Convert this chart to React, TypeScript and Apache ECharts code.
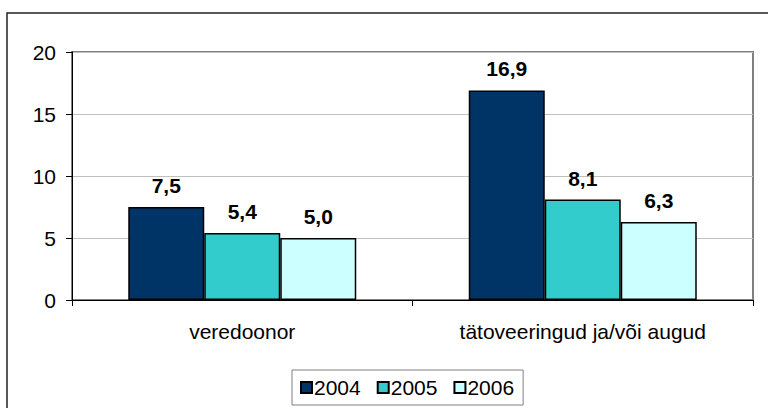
import React, { useEffect, useRef } from "react";
import * as echarts from "echarts";

const categories = ["veredoonor", "tätoveeringud ja/või augud"];
const seriesNames = ["2004", "2005", "2006"];
const values2004 = [7.5, 16.9];
const values2005 = [5.4, 8.1];
const values2006 = [5.0, 6.3];
const colors = ["#003366", "#33CCCC", "#CCFFFF"];
const yTicks = { min: 0, max: 20, interval: 5 };

export default function App() {
  const ref = useRef<HTMLDivElement>(null);
  useEffect(() => {
    if (!ref.current) return;
    const chart = echarts.init(ref.current, undefined, { renderer: "svg" });
    const font = "'Liberation Sans', Arial, sans-serif";
    const data = [values2004, values2005, values2006];
    chart.setOption({
      animation: false,
      backgroundColor: "#ffffff",
      textStyle: { fontFamily: font },
      graphic: [
        {
          type: "rect",
          shape: { x: 7, y: 13, width: 800, height: 500 },
          style: { fill: "none", stroke: "#222", lineWidth: 1.5 },
          silent: true,
        },
      ],
      grid: {
        left: 72,
        right: 15,
        top: 52,
        bottom: 108,
        show: true,
        borderColor: "#808080",
        borderWidth: 2,
        backgroundColor: "#ffffff",
      },
      legend: {
        data: seriesNames,
        left: 292,
        top: 370,
        itemWidth: 11,
        itemHeight: 11,
        itemGap: 16,
        padding: [7, 9, 7, 8],
        borderColor: "#808080",
        borderWidth: 1,
        icon: "rect",
        textStyle: { fontSize: 21, color: "#000", fontFamily: font, padding: [0, 0, 0, -3] },
      },
      xAxis: {
        type: "category",
        data: categories,
        axisLine: { lineStyle: { color: "#000", width: 1 } },
        axisTick: { show: true, length: 6, lineStyle: { color: "#000" } },
        axisLabel: { fontSize: 21, color: "#000", margin: 21, fontFamily: font },
      },
      yAxis: {
        type: "value",
        min: yTicks.min,
        max: yTicks.max,
        interval: yTicks.interval,
        axisLine: { show: true, lineStyle: { color: "#000", width: 1 } },
        axisTick: { show: true, length: 6, lineStyle: { color: "#000" } },
        axisLabel: { fontSize: 21, color: "#000", margin: 16, fontFamily: font },
        splitLine: { show: true, lineStyle: { color: "#c0c0c0", width: 1 } },
      },
      series: seriesNames.map((name, i) => ({
        name,
        type: "bar",
        data: data[i],
        barWidth: 76,
        barGap: "0%",
        itemStyle: { color: colors[i], borderColor: "#000", borderWidth: 1.5 },
        label: {
          show: true,
          position: "top",
          distance: 11,
          fontSize: 21,
          fontWeight: "bold",
          color: "#000",
          fontFamily: font,
          formatter: (p: any) => Number(p.value).toFixed(1).replace(".", ","),
        },
      })),
    });
    return () => chart.dispose();
  }, []);
  return (
    <div
      ref={ref}
      style={{ position: "fixed", left: 0, top: 0, width: 768, height: 408 }}
    />
  );
}
